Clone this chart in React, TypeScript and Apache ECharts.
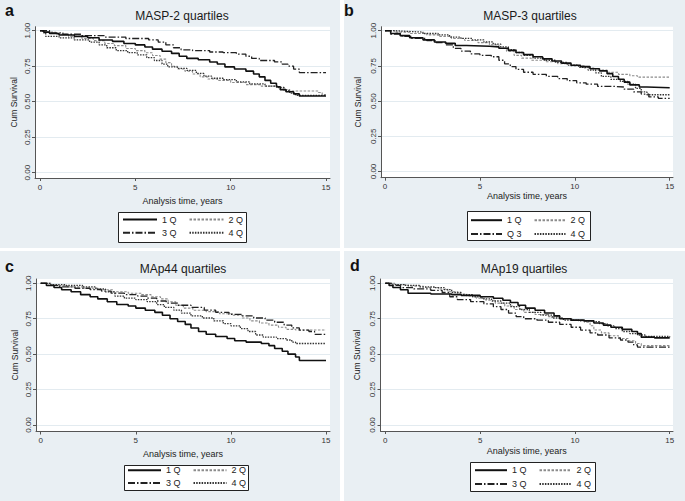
import React, { useEffect, useRef } from 'react';
import * as echarts from 'echarts';

// ---------- data ----------
const X_TICKS = [0, 5, 10, 15];
const Y_TICKS = [0, 0.25, 0.5, 0.75, 1];
const PANEL_TITLES = ['MASP-2 quartiles', 'MASP-3 quartiles', 'MAp44 quartiles', 'MAp19 quartiles'];
const PANEL_LETTERS = ['a', 'b', 'c', 'd'];
const X_TITLE = 'Analysis time, years';
const Y_TITLE = 'Cum Survival';
const NAMES_A = ['1 Q', '2 Q', '3 Q', '4 Q'];
const NAMES_B = ['1 Q', '2 Q', 'Q 3', '4 Q'];
const NAMES_C = ['1 Q', '2 Q', '3 Q', '4 Q'];
const NAMES_D = ['1 Q', '2 Q', '3 Q', '4 Q'];

// MASP-2
const A_Q1 = [[0,1],[0.2,0.99],[0.5,0.98],[1.0,0.97],[1.8,0.96],[2.5,0.95],[3.1,0.935],[3.8,0.925],[4.4,0.91],[5.0,0.9],[5.5,0.885],[5.9,0.87],[6.4,0.855],[6.9,0.84],[7.3,0.82],[7.7,0.805],[8.3,0.795],[8.9,0.78],[9.3,0.765],[9.7,0.745],[10.2,0.73],[10.8,0.715],[11.2,0.695],[11.5,0.675],[11.8,0.65],[12.1,0.63],[12.4,0.605],[12.6,0.585],[12.9,0.57],[13.3,0.555],[13.6,0.54],[15,0.54]];
const A_Q2 = [[0,1],[0.3,0.99],[0.8,0.975],[1.5,0.96],[2.2,0.945],[2.8,0.93],[3.4,0.91],[3.9,0.895],[4.5,0.875],[5.0,0.86],[5.5,0.845],[5.9,0.825],[6.3,0.8],[6.6,0.775],[6.9,0.75],[7.2,0.73],[7.6,0.715],[8.0,0.695],[8.4,0.675],[8.8,0.66],[9.3,0.65],[10.0,0.635],[10.8,0.62],[11.6,0.61],[12.4,0.6],[12.8,0.585],[13.1,0.575],[14.6,0.565],[14.8,0.55],[15,0.55]];
const A_Q3 = [[0,1],[0.5,0.985],[1.2,0.975],[2.2,0.965],[3.4,0.955],[4.5,0.945],[5.7,0.935],[6.2,0.92],[6.6,0.9],[7.0,0.88],[7.4,0.865],[8.0,0.86],[8.9,0.85],[9.6,0.845],[10.3,0.835],[10.8,0.82],[11.1,0.805],[11.5,0.79],[12.3,0.78],[12.7,0.765],[13.0,0.75],[13.3,0.73],[13.6,0.705],[15,0.705]];
const A_Q4 = [[0,1],[0.15,0.985],[0.3,0.96],[1.0,0.95],[1.8,0.935],[2.6,0.92],[3.1,0.9],[3.5,0.88],[4.0,0.86],[4.6,0.845],[5.1,0.83],[5.6,0.81],[6.0,0.79],[6.4,0.765],[6.7,0.745],[7.2,0.735],[7.7,0.72],[8.2,0.7],[8.6,0.68],[9.0,0.665],[9.6,0.655],[10.3,0.64],[11.0,0.625],[11.8,0.61],[12.5,0.6],[12.8,0.58],[13.1,0.56],[13.4,0.545],[15,0.545]];

// MASP-3
const B_Q1 = [[0,1],[0.3,0.98],[0.8,0.965],[1.3,0.95],[2.0,0.935],[2.6,0.92],[3.2,0.91],[3.7,0.895],[4.3,0.89],[5.5,0.885],[6.0,0.875],[6.5,0.86],[6.9,0.845],[7.3,0.83],[7.8,0.815],[8.3,0.8],[8.8,0.785],[9.3,0.77],[9.8,0.755],[10.3,0.745],[10.8,0.73],[11.3,0.715],[11.7,0.695],[12.0,0.675],[12.3,0.655],[12.6,0.635],[12.9,0.615],[13.4,0.6],[13.8,0.595],[15,0.595]];
const B_Q2 = [[0,1],[0.5,0.99],[1.3,0.98],[2.2,0.97],[2.8,0.96],[3.5,0.945],[4.2,0.93],[4.9,0.915],[5.5,0.9],[6.0,0.875],[6.4,0.855],[6.8,0.825],[7.2,0.805],[7.7,0.79],[8.5,0.78],[9.1,0.765],[9.8,0.75],[10.5,0.735],[11.1,0.72],[11.7,0.705],[12.3,0.69],[12.9,0.68],[13.3,0.67],[15,0.67]];
const B_Q3 = [[0,1],[0.3,0.975],[0.9,0.96],[1.4,0.945],[2.2,0.93],[2.7,0.915],[3.2,0.9],[3.6,0.875],[4.0,0.855],[4.5,0.835],[5.0,0.825],[5.6,0.815],[6.0,0.79],[6.3,0.765],[6.6,0.745],[6.9,0.725],[7.3,0.705],[7.8,0.69],[8.5,0.675],[9.1,0.66],[9.6,0.645],[10.1,0.63],[10.6,0.62],[11.2,0.605],[12.0,0.6],[12.6,0.585],[13.1,0.565],[13.5,0.55],[13.9,0.53],[14.4,0.52],[15,0.52]];
const B_Q4 = [[0,1],[0.5,0.995],[1.2,0.99],[2.0,0.98],[2.8,0.97],[3.4,0.955],[4.0,0.945],[4.6,0.935],[5.2,0.92],[5.7,0.905],[6.1,0.885],[6.5,0.865],[6.9,0.845],[7.3,0.825],[7.8,0.805],[8.4,0.79],[9.0,0.775],[9.6,0.755],[10.2,0.74],[10.7,0.72],[11.1,0.7],[11.4,0.675],[11.9,0.655],[12.4,0.64],[12.8,0.62],[13.2,0.59],[13.5,0.565],[13.8,0.545],[15,0.545]];

// MAp44
const C_Q1 = [[0,1],[0.3,0.985],[0.7,0.97],[1.1,0.955],[1.6,0.94],[2.1,0.92],[2.6,0.905],[3.0,0.89],[3.5,0.87],[4.0,0.85],[4.6,0.84],[5.0,0.825],[5.5,0.81],[6.0,0.795],[6.4,0.775],[6.8,0.75],[7.2,0.73],[7.6,0.71],[7.9,0.685],[8.3,0.66],[8.7,0.64],[9.2,0.625],[9.8,0.61],[10.2,0.595],[10.8,0.585],[11.6,0.575],[12.0,0.56],[12.3,0.54],[12.7,0.52],[13.0,0.5],[13.4,0.48],[13.6,0.455],[15,0.455]];
const C_Q2 = [[0,1],[0.6,0.985],[1.4,0.975],[2.3,0.965],[3.1,0.955],[3.8,0.94],[4.6,0.93],[5.3,0.92],[5.8,0.905],[6.3,0.89],[6.7,0.87],[7.1,0.845],[7.5,0.825],[8.0,0.81],[8.7,0.8],[9.4,0.785],[10.1,0.775],[10.6,0.755],[11.0,0.735],[11.5,0.72],[12.0,0.705],[12.5,0.69],[12.9,0.675],[13.4,0.67],[15,0.67]];
const C_Q3 = [[0,1],[0.4,0.985],[1.0,0.975],[1.8,0.965],[2.6,0.955],[3.2,0.945],[3.7,0.93],[4.4,0.92],[5.1,0.91],[5.6,0.895],[6.1,0.875],[6.6,0.86],[7.2,0.845],[7.9,0.83],[8.6,0.81],[9.2,0.795],[9.9,0.78],[10.6,0.77],[11.2,0.755],[11.8,0.74],[12.3,0.725],[12.8,0.705],[13.2,0.685],[13.6,0.67],[14.1,0.66],[14.4,0.64],[15,0.64]];
const C_Q4 = [[0,1],[0.5,0.99],[1.3,0.985],[2.2,0.975],[2.9,0.96],[3.4,0.94],[3.9,0.91],[4.4,0.895],[5.0,0.885],[5.6,0.87],[6.1,0.85],[6.5,0.83],[7.0,0.81],[7.4,0.79],[7.9,0.77],[8.5,0.755],[9.1,0.735],[9.6,0.715],[10.0,0.7],[10.5,0.68],[10.9,0.66],[11.3,0.635],[11.7,0.62],[12.4,0.61],[12.9,0.6],[13.2,0.585],[13.4,0.575],[15,0.575]];

// MAp19
const D_Q1 = [[0,1],[0.2,0.985],[0.4,0.97],[0.8,0.955],[1.2,0.93],[2.4,0.925],[3.5,0.92],[4.0,0.915],[5.0,0.905],[5.7,0.895],[6.2,0.88],[6.6,0.865],[7.0,0.845],[7.4,0.825],[7.9,0.81],[8.4,0.79],[8.9,0.77],[9.2,0.75],[9.8,0.74],[10.5,0.735],[11.0,0.72],[11.5,0.705],[11.9,0.69],[12.5,0.675],[13.0,0.66],[13.3,0.645],[13.5,0.62],[14.2,0.615],[15,0.615]];
const D_Q2 = [[0,1],[0.5,0.99],[1.2,0.98],[2.0,0.97],[2.8,0.96],[3.3,0.94],[3.8,0.925],[4.3,0.91],[4.8,0.895],[5.3,0.88],[5.8,0.86],[6.3,0.84],[6.8,0.815],[7.3,0.795],[7.9,0.78],[8.6,0.765],[9.2,0.75],[9.9,0.74],[10.5,0.725],[10.8,0.7],[11.0,0.67],[11.4,0.65],[11.8,0.63],[12.3,0.61],[12.8,0.595],[13.2,0.575],[13.5,0.56],[15,0.56]];
const D_Q3 = [[0,1],[0.3,0.985],[0.8,0.97],[1.5,0.96],[2.4,0.95],[3.0,0.935],[3.4,0.905],[3.8,0.885],[4.5,0.87],[5.2,0.855],[5.7,0.835],[6.1,0.815],[6.5,0.79],[6.9,0.765],[7.3,0.75],[8.0,0.74],[8.6,0.725],[9.2,0.71],[9.8,0.69],[10.3,0.67],[10.8,0.65],[11.2,0.635],[11.8,0.615],[12.4,0.6],[12.8,0.585],[13.1,0.565],[13.3,0.55],[15,0.55]];
const D_Q4 = [[0,1],[0.4,0.99],[1.0,0.985],[1.8,0.975],[2.6,0.97],[3.1,0.955],[3.5,0.935],[4.0,0.92],[4.6,0.905],[5.1,0.89],[5.6,0.875],[6.1,0.86],[6.6,0.835],[7.1,0.815],[7.6,0.795],[8.2,0.775],[8.8,0.755],[9.4,0.74],[10.2,0.735],[10.9,0.73],[11.3,0.715],[11.7,0.7],[12.1,0.68],[12.5,0.66],[12.9,0.645],[13.3,0.635],[13.7,0.625],[15,0.62]];

const PANEL_DATA = [
  [A_Q1, A_Q2, A_Q3, A_Q4],
  [B_Q1, B_Q2, B_Q3, B_Q4],
  [C_Q1, C_Q2, C_Q3, C_Q4],
  [D_Q1, D_Q2, D_Q3, D_Q4],
];
const PANEL_NAMES = [NAMES_A, NAMES_B, NAMES_C, NAMES_D];

// ---------- layout / styles ----------
const FONT = '"Liberation Sans", Arial, sans-serif';
const BG = '#e9eff3';
const LAYOUT = [
  { bg: [0, 0, 340, 248], left: 35, right: 330, top: 26.7, bottom: 178, x0: 40, x15: 326, y1: 30.7, y0: 172.7,
    title: [182, 16], letter: [5, 10], xGap: 18, yGap: 17, box: [118, 212, 128, 30], legLeft: 122, iconW: 34, rows: [220, 233.3] },
  { bg: [344, 0, 341, 248], left: 381, right: 673, top: 26.7, bottom: 177.7, x0: 385, x15: 669.7, y1: 30.7, y0: 171.5,
    title: [530, 16], letter: [344, 10], xGap: 13, yGap: 19, box: [467, 211, 123, 29], legLeft: 470, iconW: 31, rows: [220.7, 234.5] },
  { bg: [0, 251, 340, 250], left: 36, right: 330, top: 279, bottom: 431.5, x0: 40.7, x15: 326, y1: 283.3, y0: 425,
    title: [183, 269], letter: [5, 266], xGap: 18, yGap: 17, box: [124, 465, 124, 25], legLeft: 127, iconW: 33, rows: [470.7, 483.5] },
  { bg: [344, 251, 341, 250], left: 380.5, right: 673, top: 279, bottom: 431, x0: 385.3, x15: 669.7, y1: 283.3, y0: 425,
    title: [524, 268.7], letter: [350, 265], xGap: 15, yGap: 19, box: [470, 462, 125, 29], legLeft: 474, iconW: 32, rows: [470.7, 484.5] },
];
const LINE_STYLES = [
  { color: '#111111', width: 1.6, type: 'solid' },
  { color: '#8c8c8c', width: 1.1, type: [2.5, 1.5] },
  { color: '#222222', width: 1.3, type: [7, 2, 1.5, 2] },
  { color: '#333333', width: 1.3, type: [1.5, 1.2] },
];

function buildOption() {
  const grid: any[] = [];
  const xAxis: any[] = [];
  const yAxis: any[] = [];
  const series: any[] = [];
  const legend: any[] = [];
  const graphic: any[] = [];
  const axisColor = '#555';

  LAYOUT.forEach((L, p) => {
    const xScale = 15 / (L.x15 - L.x0);
    const yScale = 1 / (L.y0 - L.y1);
    grid.push({
      left: L.left, top: L.top, width: L.right - L.left, height: L.bottom - L.top,
      show: true, backgroundColor: '#ffffff', borderWidth: 0, containLabel: false,
    });
    xAxis.push({
      type: 'value', gridIndex: p,
      min: (L.left - L.x0) * xScale, max: (L.right - L.x0) * xScale,
      name: X_TITLE, nameLocation: 'middle', nameGap: L.xGap,
      nameTextStyle: { fontSize: 9, color: '#222', fontFamily: FONT },
      axisLine: { show: true, onZero: false, lineStyle: { color: axisColor, width: 1 } },
      axisTick: { show: true, length: 3, customValues: X_TICKS, lineStyle: { color: axisColor } },
      axisLabel: { customValues: X_TICKS, fontSize: 8, color: '#333', fontFamily: FONT, margin: 5 },
      splitLine: { show: false },
    });
    yAxis.push({
      type: 'value', gridIndex: p,
      min: (L.y0 - L.bottom) * yScale, max: (L.y0 - L.top) * yScale,
      name: Y_TITLE, nameLocation: 'middle', nameGap: L.yGap,
      nameTextStyle: { fontSize: 8.5, color: '#222', fontFamily: FONT },
      axisLine: { show: true, onZero: false, lineStyle: { color: axisColor, width: 1 } },
      axisTick: { show: true, length: 3, customValues: Y_TICKS, lineStyle: { color: axisColor } },
      axisLabel: { customValues: Y_TICKS, rotate: 90, fontSize: 8, color: '#333', fontFamily: FONT, margin: 4,
        formatter: (v: number) => v.toFixed(2) },
      splitLine: { show: true, lineStyle: { color: '#e3ebf0', width: 1 } },
    });
    PANEL_DATA[p].forEach((d, q) => {
      series.push({
        type: 'line', name: PANEL_NAMES[p][q], xAxisIndex: p, yAxisIndex: p,
        data: d, step: 'end', symbol: 'none', showSymbol: false, silent: true,
        lineStyle: { ...LINE_STYLES[q] }, itemStyle: { color: LINE_STYLES[q].color },
        z: 3 + (q === 0 ? 1 : 0),
      });
    });
    const rowsNames = [[PANEL_NAMES[p][0], PANEL_NAMES[p][1]], [PANEL_NAMES[p][2], PANEL_NAMES[p][3]]];
    rowsNames.forEach((names, r) => {
      legend.push({
        left: L.legLeft, top: L.rows[r] - 5, orient: 'horizontal', padding: 0,
        itemWidth: L.iconW, itemHeight: 10, itemGap: 12, selectedMode: false, z: 6,
        itemStyle: { opacity: 0, borderWidth: 0 },
        data: names, textStyle: { fontSize: 9, color: '#222', fontFamily: FONT },
      });
    });
    graphic.push({ type: 'rect', z: -10, silent: true,
      shape: { x: L.bg[0], y: L.bg[1], width: L.bg[2], height: L.bg[3] }, style: { fill: BG } });
    graphic.push({ type: 'rect', z: 2, silent: true,
      shape: { x: L.box[0] + 0.5, y: L.box[1] + 0.5, width: L.box[2], height: L.box[3] },
      style: { fill: '#ffffff', stroke: '#222', lineWidth: 1 } });
    graphic.push({ type: 'text', z: 5, silent: true, x: L.title[0], y: L.title[1],
      style: { text: PANEL_TITLES[p], fontSize: 12, fill: '#1a1a1a', fontFamily: FONT, align: 'center', verticalAlign: 'middle' } });
    graphic.push({ type: 'text', z: 5, silent: true, x: L.letter[0], y: L.letter[1],
      style: { text: PANEL_LETTERS[p], fontSize: 16, fontWeight: 'bold', fill: '#111', fontFamily: FONT, align: 'left', verticalAlign: 'middle' } });
  });

  return {
    animation: false,
    backgroundColor: '#ffffff',
    grid, xAxis, yAxis, series, legend, graphic,
  };
}

export default function App() {
  const ref = useRef<HTMLDivElement>(null);
  useEffect(() => {
    if (!ref.current) return;
    const chart = echarts.init(ref.current, undefined, { renderer: 'svg' });
    chart.setOption(buildOption() as any);
    return () => chart.dispose();
  }, []);
  return <div ref={ref} style={{ position: 'absolute', left: 0, top: 0, width: 685, height: 501 }} />;
}
